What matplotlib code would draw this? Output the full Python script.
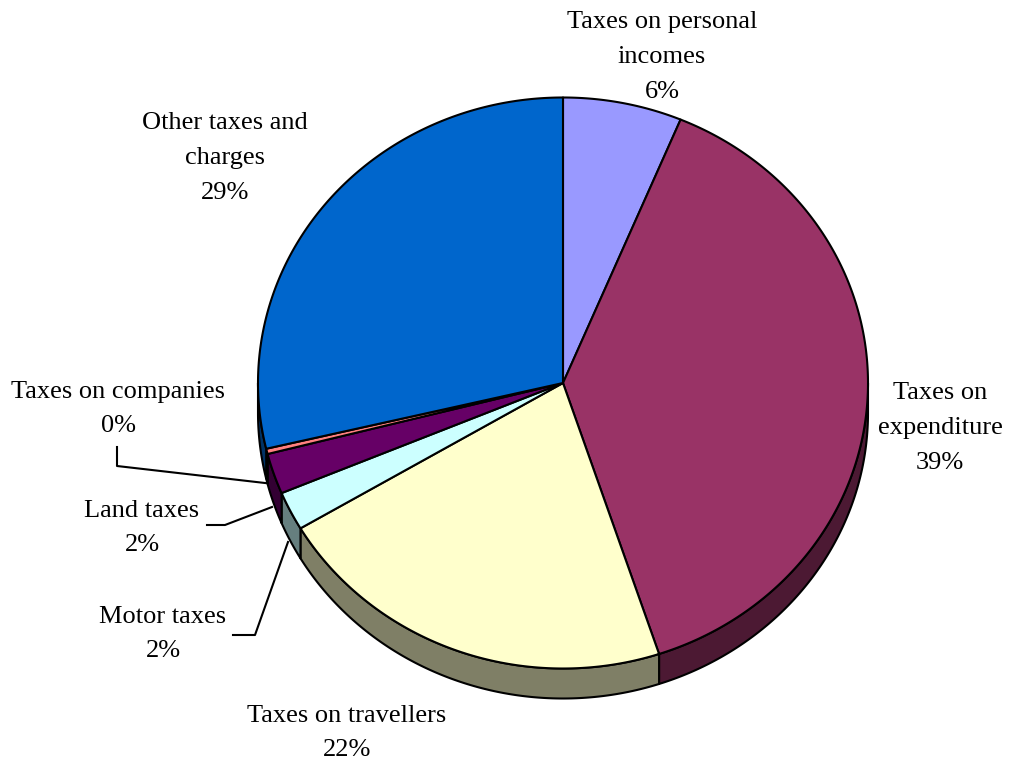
from __future__ import annotations

import numpy as np
import matplotlib

matplotlib.use("Agg")
import matplotlib.pyplot as plt
from matplotlib.patches import Polygon

CATEGORIES = [
    "Taxes on personal\nincomes",
    "Taxes on\nexpenditure",
    "Taxes on travellers",
    "Motor taxes",
    "Land taxes",
    "Taxes on companies",
    "Other taxes and\ncharges",
]
SHARES = [6.3, 38.6, 21.6, 2.2, 2.3, 0.3, 28.7]
TOP_COLORS = ["#9999FF", "#993366", "#FFFFCC", "#CCFFFF", "#660066", "#FF8080", "#0066CC"]
SIDE_COLORS = ["#4C4C7F", "#4C1933", "#7F7F66", "#667F7F", "#330033", "#7F4040", "#003366"]

# label anchor points (pixel space) and leader polylines
LABEL_XY = [(662, 57), (940, 428), (347, 733), (163, 634), (142, 528), (118, 409), (225, 158)]
LEADERS = {
    3: [(233, 635), (255, 635), (288, 542)],
    4: [(207, 525), (225, 525), (272, 507)],
    5: [(117, 447), (117, 466), (265, 483)],
}

CX, CY = 563.0, 383.0
RX, RY = 305.0, 285.5
DEPTH = 30.0


def _rim(theta: np.ndarray) -> np.ndarray:
    # angles in degrees, clockwise from 12 o'clock
    t = np.radians(theta)
    return np.column_stack([CX + RX * np.sin(t), CY - RY * np.cos(t)])


def draw_pie(ax) -> None:
    shares = np.asarray(SHARES, dtype=float)
    edges = np.concatenate([[0.0], np.cumsum(shares) / shares.sum() * 360.0])

    # outer walls on the front half
    for i in range(len(shares)):
        lo, hi = max(edges[i], 90.0), min(edges[i + 1], 270.0)
        if hi <= lo:
            continue
        theta = np.linspace(lo, hi, max(int((hi - lo) * 4), 2))
        top = _rim(theta)
        bottom = top[::-1] + [0.0, DEPTH]
        ax.add_patch(Polygon(np.vstack([top, bottom]), closed=True,
                             facecolor=SIDE_COLORS[i], edgecolor="black",
                             linewidth=1.5, joinstyle="round"))

    # top faces
    for i in range(len(shares)):
        a0, a1 = edges[i], edges[i + 1]
        theta = np.linspace(a0, a1, max(int((a1 - a0) * 4), 2))
        pts = np.vstack([[CX, CY], _rim(theta)])
        ax.add_patch(Polygon(pts, closed=True, facecolor=TOP_COLORS[i],
                             edgecolor="black", linewidth=1.5, joinstyle="round"))

    total = shares.sum()
    for i, (name, (x, y)) in enumerate(zip(CATEGORIES, LABEL_XY)):
        pct = int(round(shares[i] / total * 100))
        ax.text(x, y, f"{name}\n{pct}%", ha="center", va="center",
                fontsize=19, family="Liberation Serif", linespacing=1.75)

    for pts in LEADERS.values():
        xs, ys = zip(*pts)
        ax.plot(xs, ys, color="black", linewidth=1.5)


def main() -> None:
    fig = plt.figure(figsize=(10.13, 7.65), dpi=100)
    ax = fig.add_axes([0, 0, 1, 1])
    ax.set_xlim(0, 1013)
    ax.set_ylim(765, 0)
    ax.axis("off")
    draw_pie(ax)
    fig.savefig("out.png", dpi=100, facecolor="white")
    plt.close(fig)


if __name__ == "__main__":
    main()
